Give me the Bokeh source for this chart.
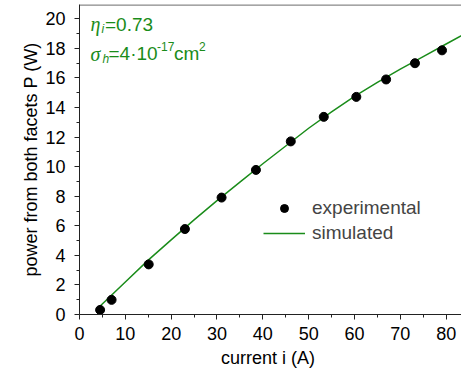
from bokeh.plotting import figure
from bokeh.models import Range1d, FixedTicker, Label, Legend, LegendItem, Span
from bokeh.embed import file_html
from bokeh.resources import INLINE

# ---- data ----
exp_current = [4.5, 7.0, 15.1, 23.0, 31.0, 38.5, 46.1, 53.3, 60.4, 66.9, 73.2, 79.1]
exp_power = [0.31, 0.99, 3.39, 5.78, 7.91, 9.78, 11.71, 13.37, 14.72, 15.9, 17.0, 17.87]

sim_current = [4.4, 10, 15, 20, 25, 30, 35, 40, 45, 50, 55, 60, 65, 70, 75, 80, 85]
sim_power = [0.54, 2.2, 3.68, 5.05, 6.4, 7.7, 8.95, 10.2, 11.4, 12.6, 13.7, 14.75,
             15.7, 16.6, 17.45, 18.3, 19.15]

x_ticks = [0, 10, 20, 30, 40, 50, 60, 70, 80]
x_minor = [5, 15, 25, 35, 45, 55, 65, 75]
y_ticks = [0, 2, 4, 6, 8, 10, 12, 14, 16, 18, 20]
y_minor = [1, 3, 5, 7, 9, 11, 13, 15, 17, 19]

x_label = "current  i (A)"
y_label = "power from both facets P (W)"
legend_labels = ["experimental", "simulated"]

GREEN = "#1a8c1a"
FONT = "Liberation Sans"
FS = "18px"

# frame geometry (page pixels)
W, H = 461, 370
X0_PX, PX_PER_X = 79.0, 4.583
Y0_PX, PX_PER_Y = 315.0, 14.83
TOP_PX = 4
X_END = (W - X0_PX) / PX_PER_X
Y_END = (Y0_PX - TOP_PX) / PX_PER_Y


def dx(px):
    return (px - X0_PX) / PX_PER_X


def dy(py):
    return (Y0_PX - py) / PX_PER_Y


p = figure(width=W, height=H, output_backend="svg", toolbar_location=None,
           x_range=Range1d(0, X_END), y_range=Range1d(0, Y_END),
           min_border_left=int(X0_PX), min_border_right=0, min_border_top=TOP_PX,
           min_border_bottom=int(H - Y0_PX))
p.outline_line_color = None
p.xgrid.visible = False
p.ygrid.visible = False
p.background_fill_color = "white"
p.border_fill_color = "white"

for ax, ticks, minor in ((p.xaxis[0], x_ticks, x_minor), (p.yaxis[0], y_ticks, y_minor)):
    ax.ticker = FixedTicker(ticks=ticks, minor_ticks=minor)
    ax.axis_line_color = "#222222"
    ax.major_tick_line_color = "#222222"
    ax.minor_tick_line_color = "#222222"
    ax.major_tick_out = 5
    ax.major_tick_in = 0
    ax.minor_tick_out = 3
    ax.minor_tick_in = 0
    ax.major_label_text_font = FONT
    ax.major_label_text_font_size = FS
    ax.major_label_text_color = "black"
    ax.axis_label_text_font = FONT
    ax.axis_label_text_font_size = FS
    ax.axis_label_text_font_style = "normal"
    ax.axis_label_text_color = "black"
p.xaxis[0].major_label_standoff = 7
p.yaxis[0].major_label_standoff = 9
p.xaxis[0].axis_label = x_label
p.yaxis[0].axis_label = y_label
p.xaxis[0].axis_label_standoff = 5
p.yaxis[0].axis_label_standoff = 1

# top border
p.add_layout(Span(location=Y_END - 0.03, dimension="width", line_color="#333333", line_width=1))

line_r = p.line(sim_current, sim_power, line_color=GREEN, line_width=1.5)
pts_r = p.scatter(exp_current, exp_power, size=9, fill_color="black", line_color="black")

legend = Legend(items=[LegendItem(label=legend_labels[0], renderers=[pts_r]),
                       LegendItem(label=legend_labels[1], renderers=[line_r])],
                location=(184, 70), glyph_width=42, glyph_height=20, label_height=20,
                spacing=3, padding=0, margin=0, label_standoff=7,
                label_text_font=FONT, label_text_font_size="19px",
                border_line_alpha=0, background_fill_alpha=0)
p.add_layout(legend)


def lab(text, px, py, size="19px", style="normal", font=FONT, color=GREEN):
    p.add_layout(Label(x=dx(px), y=dy(py), text=text, text_font=font, text_font_size=size,
                       text_font_style=style, text_color=color, text_align="left",
                       text_baseline="middle"))


# annotations
lab("\u03b7", 90, 24, size="20px", style="italic", font="Liberation Serif")
lab("i", 101, 29, size="12px", style="italic")
lab("=0.73", 104.5, 24)

lab("\u03c3", 90, 53.5, size="20px", style="italic", font="Liberation Serif")
lab("h", 102, 58.5, size="12px", style="italic")
lab("=4\u00b710", 108, 53.5)
lab("-17", 156.5, 46, size="12px")
lab("cm", 173.5, 53.5)
lab("2", 198.5, 46, size="12px")

open("out.html", "w").write(file_html(p, INLINE))
